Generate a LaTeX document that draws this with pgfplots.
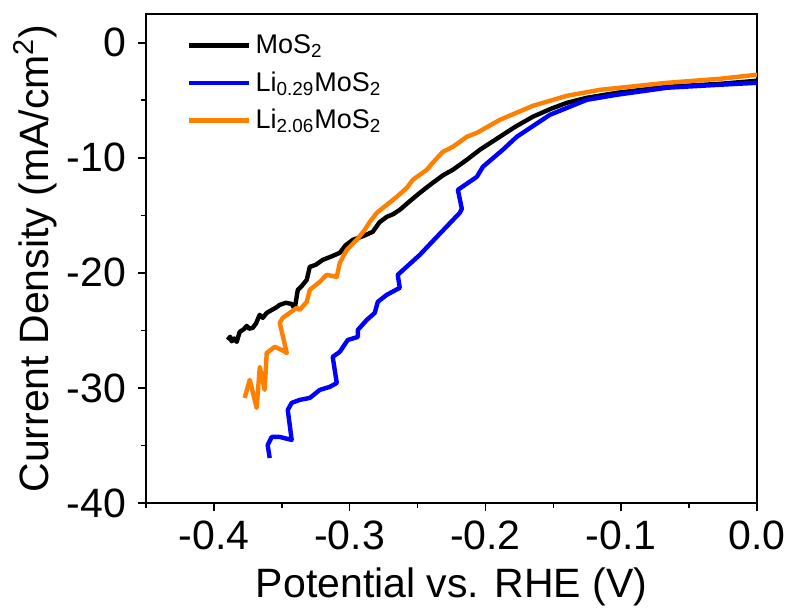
\documentclass[border=0pt]{standalone}
\usepackage{fontspec}
\setmainfont{Liberation Sans}
\usepackage{pgfplots}
\pgfplotsset{compat=1.18}
\definecolor{myorange}{RGB}{255,128,0}
\definecolor{myblue}{RGB}{0,0,255}
\begin{document}
\begin{tikzpicture}
\useasboundingbox (-73pt,-52.5pt) rectangle (320.5pt,251.5pt);
\begin{axis}[
 scale only axis, width=305.5pt, height=244.5pt,
 xmin=-0.45, xmax=0, ymin=-40, ymax=2.5,
 xtick={-0.4,-0.3,-0.2,-0.1,0}, xticklabels={-0.4,-0.3,-0.2,-0.1,0.0},
 ytick={-40,-30,-20,-10,0}, yticklabels={-40,-30,-20,-10,0},
 minor xtick={-0.45,-0.35,-0.25,-0.15,-0.05},
 minor ytick={-35,-25,-15,-5},
 tick pos=left, tick align=outside,
 major tick length=4pt, minor tick length=2.5pt,
 axis line style={line width=0.8pt},
 every tick/.style={line width=0.8pt, black},
 ticklabel style={font=\fontsize{20.5}{24}\selectfont},
 x tick label style={yshift=-3.5pt, inner ysep=1pt},
 y tick label style={xshift=-2.5pt},
 xlabel={Potential vs. RHE (V)},
 ylabel={Current Density (mA/cm\textsuperscript{2})},
 label style={font=\fontsize{20.5}{24}\selectfont},
 xlabel style={at={(axis description cs:0.5,-0.171)}, anchor=center, inner ysep=1pt},
 ylabel style={at={(axis description cs:-0.1817,0.5)}, anchor=center},
 legend style={draw=none, fill=none, at={(axis description cs:0.057,0.975)}, anchor=north west,
   font=\fontsize{13.5}{16}\selectfont, row sep=3.5pt},
 legend cell align=left,
 legend image code/.code={\draw[#1] (0pt,0pt) -- (30pt,0pt);},
 every axis plot/.append style={line width=2.2pt, line join=round},
]
\addplot[black] coordinates {
(-0.3898,-25.83) (-0.3880,-25.55) (-0.3869,-25.95) (-0.3850,-25.70) (-0.3832,-26.00)
(-0.3810,-25.13) (-0.3780,-24.90) (-0.3758,-24.61) (-0.3740,-24.85) (-0.3714,-24.78)
(-0.3690,-24.40) (-0.3663,-23.65) (-0.3640,-23.91) (-0.3611,-23.48) (-0.3570,-23.20)
(-0.3540,-23.00) (-0.3515,-22.78) (-0.3470,-22.60) (-0.3427,-22.70) (-0.3405,-23.13)
(-0.3382,-21.48) (-0.3350,-21.10) (-0.3316,-20.61) (-0.3294,-19.48) (-0.3250,-19.30)
(-0.3198,-18.87) (-0.3140,-18.60) (-0.3073,-18.26) (-0.3030,-17.60) (-0.2977,-17.13)
(-0.2900,-16.80) (-0.2830,-16.43) (-0.2780,-15.60) (-0.2727,-15.13) (-0.2680,-14.90)
(-0.2631,-14.52) (-0.2560,-13.80) (-0.2483,-13.04) (-0.2388,-12.17) (-0.2310,-11.50)
(-0.2240,-11.04) (-0.2137,-10.17) (-0.2041,-9.30) (-0.1894,-8.17) (-0.1780,-7.30)
(-0.1651,-6.43) (-0.1520,-5.75) (-0.1400,-5.22) (-0.1253,-4.78) (-0.1032,-4.35)
(-0.0663,-3.83) (-0.0273,-3.57) (0,-3.30)
};
\addlegendentry{MoS\textsubscript{2}}
\addplot[myblue] coordinates {
(-0.3589,-36.09) (-0.3604,-34.96) (-0.3574,-34.26) (-0.3515,-34.26) (-0.3427,-34.52)
(-0.3456,-31.91) (-0.3427,-31.30) (-0.3368,-31.04) (-0.3294,-30.87) (-0.3220,-30.17)
(-0.3147,-29.91) (-0.3095,-29.57) (-0.3125,-27.30) (-0.3073,-26.87) (-0.3014,-25.83)
(-0.2940,-25.57) (-0.2940,-24.96) (-0.2874,-24.09) (-0.2815,-23.48) (-0.2793,-22.52)
(-0.2727,-21.91) (-0.2631,-21.30) (-0.2646,-20.17) (-0.2483,-18.43) (-0.2358,-16.87)
(-0.2189,-14.78) (-0.2174,-14.43) (-0.2203,-12.78) (-0.2063,-11.65) (-0.2019,-10.78)
(-0.1872,-9.30) (-0.1769,-8.17) (-0.1525,-6.26) (-0.1253,-4.96) (-0.1032,-4.52)
(-0.0663,-3.91) (-0.0273,-3.65) (0,-3.48)
};
\addlegendentry{Li\textsubscript{0.29}MoS\textsubscript{2}}
\addplot[myorange] coordinates {
(-0.3773,-30.87) (-0.3736,-29.30) (-0.3685,-31.74) (-0.3662,-28.17) (-0.3626,-30.17)
(-0.3611,-26.96) (-0.3552,-26.43) (-0.3500,-26.70) (-0.3463,-26.96) (-0.3515,-24.35)
(-0.3493,-23.91) (-0.3390,-23.04) (-0.3368,-23.22) (-0.3316,-22.52) (-0.3294,-21.48)
(-0.3220,-20.78) (-0.3169,-20.17) (-0.3095,-20.35) (-0.3073,-19.13) (-0.3021,-18.00)
(-0.2948,-17.13) (-0.2889,-16.26) (-0.2852,-15.57) (-0.2800,-14.78) (-0.2727,-14.09)
(-0.2653,-13.39) (-0.2579,-12.61) (-0.2535,-11.91) (-0.2432,-11.04) (-0.2388,-10.43)
(-0.2314,-9.48) (-0.2240,-9.04) (-0.2137,-8.17) (-0.2063,-7.83) (-0.1894,-6.70)
(-0.1651,-5.48) (-0.1400,-4.61) (-0.1157,-4.09) (-0.0663,-3.48) (-0.0273,-3.13) (0,-2.78)
};
\addlegendentry{Li\textsubscript{2.06}MoS\textsubscript{2}}
\end{axis}
\end{tikzpicture}
\end{document}
